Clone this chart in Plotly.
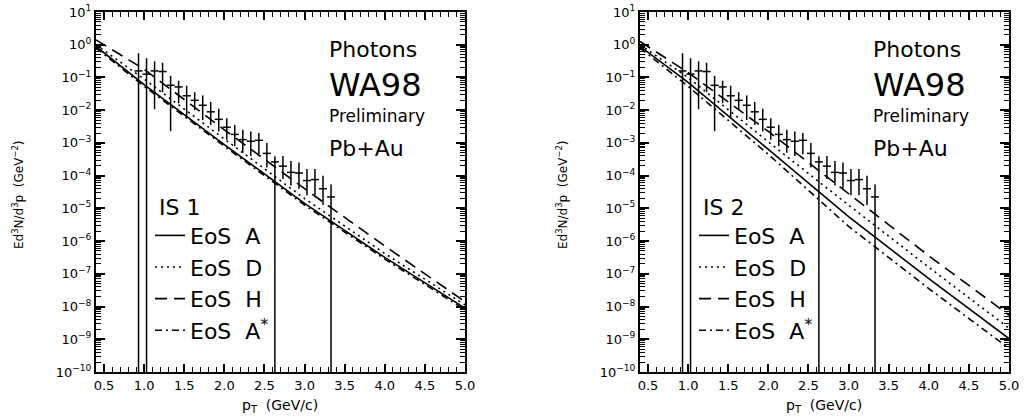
import numpy as np
import plotly.graph_objects as go

# ---------------- data ----------------
# WA98 preliminary photon points (same in both panels); log10 of yield
pt = [0.93, 1.03, 1.13, 1.23, 1.33, 1.43, 1.53, 1.63, 1.73, 1.83, 1.93, 2.03, 2.13,
      2.23, 2.33, 2.43, 2.53, 2.63, 2.73, 2.83, 2.93, 3.03, 3.13, 3.23, 3.33]
y_log = [-0.80, -0.90, -0.80, -0.82, -1.24, -1.29, -1.56, -1.70, -1.85, -2.05, -2.28, -2.52,
         -2.74, -2.90, -2.95, -2.92, -3.32, -3.58, -3.71, -3.90, -3.92, -4.15, -4.12, -4.40, -4.65]
hi_log = [-0.26, -0.41, -0.51, -0.55, -0.95, -1.10, -1.25, -1.45, -1.55, -1.75, -1.95, -2.25,
          -2.45, -2.60, -2.65, -2.70, -3.00, -3.41, -3.40, -3.55, -3.60, -3.80, -3.80, -4.00, -4.27]
# -10 = error bar reaching zero (bottom of the axis)
lo_log = [-10, -10, -1.97, -1.45, -2.64, -1.79, -2.24, -2.00, -2.30, -2.45, -2.65, -2.90,
          -3.10, -3.30, -3.40, -3.35, -3.75, -10, -4.10, -4.30, -4.40, -4.60, -4.60, -4.90, -10]
pt_halfbin = 0.05

# hydrodynamic calculations (log10 of yield)
theory_pt = [0.4, 1.0, 2.0, 3.0, 4.0, 5.0]
is1_A = [-0.05, -1.22, -3.05, -4.85, -6.50, -8.05]
is1_D = [0.00, -1.05, -2.88, -4.70, -6.38, -7.95]
is1_H = [0.15, -0.75, -2.60, -4.40, -6.15, -7.85]
is1_Astar = [-0.10, -1.27, -3.10, -4.90, -6.55, -8.10]

is2_A = [-0.05, -1.15, -3.20, -5.25, -7.15, -8.98]
is2_D = [0.00, -1.00, -2.97, -4.90, -6.80, -8.66]
is2_H = [0.10, -0.85, -2.65, -4.55, -6.45, -8.26]
is2_Astar = [-0.10, -1.27, -3.35, -5.55, -7.45, -9.28]

eos_names = ["EoS\u00a0\u00a0A", "EoS\u00a0\u00a0D", "EoS\u00a0\u00a0H", "EoS\u00a0\u00a0A<sup>*</sup>"]
panel_titles = ["IS 1", "IS 2"]
x_ticks = [0.5, 1.0, 1.5, 2.0, 2.5, 3.0, 3.5, 4.0, 4.5, 5.0]
y_exponents = list(range(-10, 2))

# ---------------- figure ----------------
W, H = 1033, 418
FONT = "DejaVu Sans"
dashes = ["solid", "2px,4px", "12px,7px", "7px,4px,2px,4px"]

fig = go.Figure()

y = 10 ** np.array(y_log)
hi = 10 ** np.array(hi_log)
lo = 10 ** np.array(lo_log)

panels = [
    (("x", "y"), [is1_A, is1_D, is1_H, is1_Astar], "legend"),
    (("x2", "y2"), [is2_A, is2_D, is2_H, is2_Astar], "legend2"),
]
for (xa, ya), curves, leg in panels:
    for name, vals, dash in zip(eos_names, curves, dashes):
        fig.add_trace(go.Scatter(
            x=theory_pt, y=10 ** np.array(vals), mode="lines", name=name,
            line=dict(color="black", width=1.6, dash=dash),
            xaxis=xa, yaxis=ya, legend=leg, showlegend=True))
    fig.add_trace(go.Scatter(
        x=pt, y=y, mode="markers", marker=dict(size=1, color="black"),
        error_x=dict(type="constant", value=pt_halfbin, width=0, thickness=1.5, color="black"),
        error_y=dict(type="data", symmetric=False, array=hi - y, arrayminus=y - lo,
                     width=0, thickness=1.5, color="black"),
        xaxis=xa, yaxis=ya, showlegend=False))

def px_x(p):
    return p / W

def px_y(p):
    return 1 - p / H

xdom = [[px_x(96), px_x(465)], [px_x(640), px_x(1009)]]
ydom = [px_y(372), px_y(12)]

common_x = dict(range=[0.4, 5.0], tickmode="array", tickvals=x_ticks,
                ticktext=[f"{v:.1f}" for v in x_ticks], automargin=False,
                ticks="inside", ticklen=8, tickwidth=1.5, tickcolor="black",
                showline=True, linewidth=2, linecolor="black", mirror="allticks",
                showgrid=False, zeroline=False,
                minor=dict(ticks="inside", ticklen=5, tickwidth=1.2, tickcolor="black",
                           dtick=0.1, tick0=0.4, showgrid=False),
                tickfont=dict(family=FONT, size=13, color="black"))
common_y = dict(type="log", range=[-10, 1], tickmode="array", automargin=False,
                tickvals=[10.0 ** e for e in y_exponents],
                ticktext=[f"10<sup>{e}</sup>".replace("-", "\u2212") for e in y_exponents],
                ticks="inside", ticklen=9, tickwidth=1.5, tickcolor="black",
                showline=True, linewidth=2, linecolor="black", mirror="allticks",
                showgrid=False, zeroline=False,
                minor=dict(ticks="inside", ticklen=5, tickwidth=1, tickcolor="black",
                           dtick="D1", showgrid=False),
                tickfont=dict(family=FONT, size=13, color="black"))

fig.update_layout(
    width=W, height=H, margin=dict(l=0, r=0, t=0, b=0, pad=0, autoexpand=False),
    paper_bgcolor="white", plot_bgcolor="white",
    xaxis=dict(domain=xdom[0], anchor="y", **common_x),
    yaxis=dict(domain=ydom, anchor="x", **common_y),
    xaxis2=dict(domain=xdom[1], anchor="y2", **common_x),
    yaxis2=dict(domain=ydom, anchor="x2", **common_y),
)

leg_common = dict(xanchor="left", yanchor="top", bgcolor="rgba(0,0,0,0)",
                  borderwidth=0, font=dict(family=FONT, size=22, color="black"),
                  tracegroupgap=0, itemwidth=30)
fig.update_layout(
    legend=dict(x=px_x(150), y=px_y(186),
                title=dict(text="\u00a0" + panel_titles[0],
                           font=dict(family=FONT, size=22, color="black")),
                **leg_common),
    legend2=dict(x=px_x(694), y=px_y(186),
                 title=dict(text="\u00a0" + panel_titles[1],
                            font=dict(family=FONT, size=22, color="black")),
                 **leg_common),
)

# text annotations
for off in (0, 544):
    x0 = px_x(327 + off)
    for text, ypix, size in [("Photons", 50, 22), ("WA98", 85, 32),
                             ("Preliminary", 116, 17), ("Pb+Au", 148, 22)]:
        fig.add_annotation(xref="paper", yref="paper", x=x0, y=px_y(ypix),
                           xanchor="left", yanchor="middle", showarrow=False,
                           text=text, font=dict(family=FONT, size=size, color="black"))
    # axis titles
    fig.add_annotation(xref="paper", yref="paper", x=px_x(280 + off), y=px_y(406),
                       xanchor="center", yanchor="middle", showarrow=False,
                       text="p<sub>T</sub>\u00a0\u00a0(GeV/c)",
                       font=dict(family=FONT, size=14, color="black"))
    fig.add_annotation(xref="paper", yref="paper", x=px_x(18 + off), y=px_y(195),
                       xanchor="center", yanchor="middle", showarrow=False, textangle=-90,
                       text="Ed<sup>3</sup>N/d<sup>3</sup>p\u00a0\u00a0(GeV<sup>\u22122</sup>)",
                       font=dict(family=FONT, size=12, color="black"))

page_fix = ("document.documentElement.style.margin='0';"
            "document.documentElement.style.overflow='hidden';"
            "document.body.style.margin='0';"
            "document.body.style.overflow='hidden';")
fig.write_html("out.html", config={"displayModeBar": False, "responsive": False},
               post_script=page_fix)
